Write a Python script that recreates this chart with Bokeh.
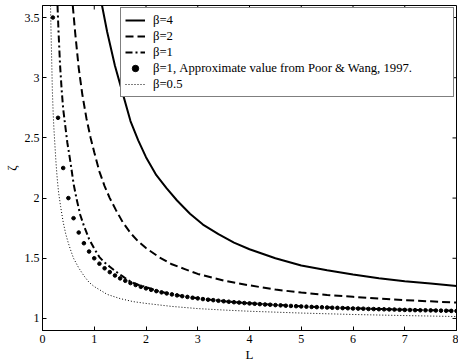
import math
from bokeh.plotting import figure
from bokeh.models import Range1d, FixedTicker, Legend, LegendItem, CustomJSTickFormatter
from bokeh.embed import file_html
from bokeh.resources import INLINE

# ---- data ----
X_MIN, X_MAX = 0, 8
Y_MIN, Y_MAX = 0.9, 3.6
x_ticks = [0, 1, 2, 3, 4, 5, 6, 7, 8]
y_ticks = [1, 1.5, 2, 2.5, 3, 3.5]

L_b4 = [1.15, 1.25, 1.4, 1.55, 1.7, 1.85, 2.0, 2.2, 2.4, 2.6, 2.85, 3.1, 3.4, 3.7, 4.0, 4.5, 5.0, 5.5, 6.0, 6.5, 7.0, 7.5, 8.0]
z_b4 = [3.60, 3.38, 3.10, 2.87, 2.64, 2.48, 2.34, 2.19, 2.08, 1.98, 1.87, 1.78, 1.70, 1.63, 1.575, 1.50, 1.44, 1.40, 1.365, 1.335, 1.31, 1.29, 1.27]

L_b2 = [0.585, 0.63, 0.70, 0.77, 0.85, 0.93, 1.0, 1.1, 1.2, 1.3, 1.42, 1.55, 1.7, 1.85, 2.0, 2.25, 2.5, 2.75, 3.0, 3.5, 4.0, 4.5, 5.0, 5.5, 6.0, 6.5, 7.0, 7.5, 8.0]
z_b2 = [3.60, 3.38, 3.08, 2.86, 2.66, 2.50, 2.38, 2.22, 2.10, 2.00, 1.90, 1.80, 1.71, 1.64, 1.585, 1.51, 1.45, 1.41, 1.37, 1.315, 1.275, 1.24, 1.215, 1.195, 1.18, 1.165, 1.152, 1.142, 1.132]

L_b1 = [0.29, 0.31, 0.34, 0.37, 0.40, 0.44, 0.48, 0.54, 0.60, 0.66, 0.73, 0.80, 0.90, 1.0, 1.1, 1.2, 1.3, 1.4, 1.55, 1.7, 1.85, 2.0, 2.25, 2.5, 3.0, 3.5, 4.0, 5.0, 6.0, 7.0, 8.0]
z_b1 = [3.60, 3.38, 3.10, 2.90, 2.74, 2.60, 2.46, 2.30, 2.12, 1.99, 1.86, 1.77, 1.66, 1.58, 1.51, 1.465, 1.43, 1.395, 1.35, 1.305, 1.28, 1.26, 1.225, 1.20, 1.167, 1.144, 1.126, 1.101, 1.085, 1.073, 1.064]

L_pw = [0.2, 0.3, 0.4, 0.5, 0.6, 0.7, 0.8, 0.9, 1.0, 1.1, 1.2, 1.3, 1.4, 1.5, 1.6, 1.7, 1.8, 1.9,
        2.0, 2.1, 2.2, 2.3, 2.4, 2.5, 2.6, 2.7, 2.8, 2.9, 3.0, 3.1, 3.2, 3.3, 3.4, 3.5, 3.6, 3.7, 3.8, 3.9,
        4.0, 4.1, 4.2, 4.3, 4.4, 4.5, 4.6, 4.7, 4.8, 4.9, 5.0, 5.1, 5.2, 5.3, 5.4, 5.5, 5.6, 5.7, 5.8, 5.9,
        6.0, 6.1, 6.2, 6.3, 6.4, 6.5, 6.6, 6.7, 6.8, 6.9, 7.0, 7.1, 7.2, 7.3, 7.4, 7.5, 7.6, 7.7, 7.8, 7.9, 8.0]
z_pw = [3.5, 2.667, 2.25, 2.0, 1.833, 1.714, 1.625, 1.556, 1.5, 1.455, 1.417, 1.385, 1.357, 1.333, 1.313, 1.294, 1.278, 1.263,
        1.25, 1.238, 1.227, 1.217, 1.208, 1.2, 1.192, 1.185, 1.179, 1.172, 1.167, 1.161, 1.156, 1.152, 1.147, 1.143, 1.139, 1.135, 1.132, 1.128,
        1.125, 1.122, 1.119, 1.116, 1.114, 1.111, 1.109, 1.106, 1.104, 1.102, 1.1, 1.098, 1.096, 1.094, 1.093, 1.091, 1.089, 1.088, 1.086, 1.085,
        1.083, 1.082, 1.081, 1.079, 1.078, 1.077, 1.076, 1.075, 1.074, 1.072, 1.071, 1.070, 1.069, 1.068, 1.068, 1.067, 1.066, 1.065, 1.064, 1.063, 1.0625]

L_b05 = [0.155, 0.165, 0.18, 0.19, 0.205, 0.22, 0.24, 0.26, 0.285, 0.31, 0.35, 0.40, 0.45, 0.50, 0.55, 0.6, 0.7, 0.8, 0.9, 1.0, 1.25, 1.5, 1.75, 2.0, 2.5, 3.0, 3.5, 4.0, 5.0, 6.0, 7.0, 8.0]
z_b05 = [3.60, 3.38, 3.10, 2.90, 2.72, 2.58, 2.44, 2.30, 2.16, 2.05, 1.93, 1.80, 1.70, 1.625, 1.56, 1.50, 1.42, 1.355, 1.30, 1.265, 1.20, 1.165, 1.14, 1.125, 1.10, 1.082, 1.07, 1.06, 1.045, 1.033, 1.024, 1.016]

labels = ["β=4", "β=2", "β=1", "β=1, Approximate value from Poor & Wang, 1997.", "β=0.5"]

FONT = "Liberation Serif"

p = figure(frame_width=414, frame_height=325,
           x_range=Range1d(X_MIN, X_MAX), y_range=Range1d(Y_MIN, Y_MAX),
           output_backend="svg", toolbar_location=None,
           min_border_left=20, min_border_right=2, min_border_top=1, min_border_bottom=30,
           background_fill_color="white", border_fill_color="white")
p.styles = {"position": "absolute", "top": "4px", "left": "0px"}
p.grid.visible = False
p.outline_line_color = "black"
p.outline_line_width = 1

fmt = CustomJSTickFormatter(code="return tick.toString();")

def style_axis(ax, ticks):
    ax.ticker = FixedTicker(ticks=ticks)
    ax.formatter = fmt
    ax.major_tick_in = 4
    ax.major_tick_out = 0
    ax.minor_tick_line_color = None
    ax.axis_line_color = "black"
    ax.major_tick_line_color = "black"
    ax.major_label_text_font = FONT
    ax.major_label_text_color = "black"
    ax.major_label_text_font_size = "12px"
    ax.major_label_standoff = 4
    ax.axis_label_text_font = FONT
    ax.axis_label_text_font_size = "13px"
    ax.axis_label_text_font_style = "normal"
    ax.axis_label_text_color = "black"

style_axis(p.xaxis[0], x_ticks)
style_axis(p.yaxis[0], y_ticks)
p.xaxis[0].axis_label = "L"
p.yaxis[0].axis_label = "ζ"
p.xaxis[0].axis_label_standoff = 1
p.yaxis[0].axis_label_standoff = 3
p.yaxis[0].major_label_standoff = 3

# mirrored inward ticks on top and right edges (positions from the tick lists)
p.ray(x=x_ticks, y=[Y_MAX] * len(x_ticks), length=4, length_units="screen",
      angle=-math.pi / 2, line_color="black", line_width=1)
p.ray(x=[X_MAX] * len(y_ticks), y=y_ticks, length=4, length_units="screen",
      angle=math.pi, line_color="black", line_width=1)

r4 = p.line(L_b4, z_b4, line_color="black", line_width=2)
r2 = p.line(L_b2, z_b2, line_color="black", line_width=2, line_dash="8 4")
r1 = p.line(L_b1, z_b1, line_color="black", line_width=2, line_dash="7 3 2 3")
rpw = p.scatter(L_pw, z_pw, size=3.6, fill_color="black", line_color="black")
r05 = p.line(L_b05, z_b05, line_color="black", line_width=1, line_dash="1 2")

legend = Legend(items=[LegendItem(label=lab, renderers=[r]) for lab, r in zip(labels, [r4, r2, r1, rpw, r05])],
                location=(78, 233), orientation="vertical",
                label_text_font=FONT, label_text_font_size="12.7px", label_text_color="black",
                glyph_width=20, glyph_height=16, label_height=16, label_width=296,
                label_standoff=8, padding=4, spacing=0, margin=0,
                border_line_color="black", border_line_width=1,
                background_fill_color="white", background_fill_alpha=1.0)
p.add_layout(legend, "center")

open("out.html", "w").write(file_html(p, INLINE))
